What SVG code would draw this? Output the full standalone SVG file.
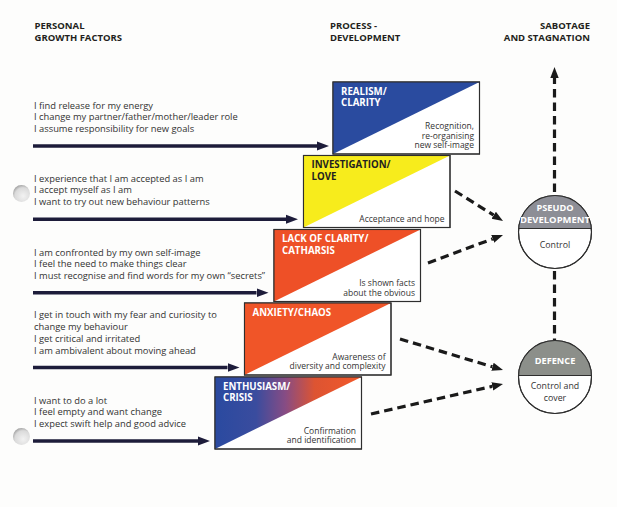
<svg xmlns="http://www.w3.org/2000/svg" width="617" height="507" viewBox="0 0 617 507">
<defs>
<style>
.hdr{font-family:"Open Sans","Liberation Sans",sans-serif;font-weight:700;font-size:9.5px;fill:#231f20}
.lt{font-family:"Open Sans","Liberation Sans",sans-serif;font-size:9.35px;fill:#333}
.ttl{font-family:"Open Sans","Liberation Sans",sans-serif;font-weight:700;font-size:9.7px;fill:#fff}
.ttl.dark{fill:#231f20}
.dsc{font-family:"Open Sans","Liberation Sans",sans-serif;font-size:8.5px;fill:#333;text-anchor:end}
.box{fill:#fff;stroke:#2e2e2e;stroke-width:1.1}
.sol{stroke:#1d1c3a;stroke-width:3.4;fill:none}
.dsh{stroke:#1a1a1a;stroke-width:3.2;fill:none;stroke-dasharray:8.5 5}
.cir{fill:#fff;stroke:#2e2e2e;stroke-width:1.1}
.ctt{font-family:"Open Sans","Liberation Sans",sans-serif;font-weight:700;font-size:9.2px;fill:#fff;text-anchor:middle}
.ctx{font-family:"Open Sans","Liberation Sans",sans-serif;font-size:8.8px;fill:#333;text-anchor:middle}
</style>
<marker id="solHead" markerUnits="userSpaceOnUse" viewBox="0 -5 13 10" refX="0" refY="0" markerWidth="13" markerHeight="10" orient="auto">
<path d="M0,-4.5 L12,0 L0,4.5 z" fill="#1d1c3a"/>
</marker>
<marker id="dshHead" markerUnits="userSpaceOnUse" viewBox="0 -5 12 10" refX="0" refY="0" markerWidth="12" markerHeight="10" orient="auto">
<path d="M0,-4.2 L11,0 L0,4.2 z" fill="#1a1a1a"/>
</marker>
<linearGradient id="gEnth" gradientUnits="userSpaceOnUse" x1="215" y1="0" x2="361.5" y2="0">
<stop offset="0" stop-color="#2a4aa0"/>
<stop offset="0.28" stop-color="#3a4c9e"/>
<stop offset="0.48" stop-color="#874c84"/>
<stop offset="0.68" stop-color="#dd5432"/>
<stop offset="1" stop-color="#f3592a"/>
</linearGradient>
<radialGradient id="hole" cx="0.6" cy="0.65" r="0.7">
<stop offset="0" stop-color="#f2f2f2"/>
<stop offset="0.7" stop-color="#dadada"/>
<stop offset="1" stop-color="#9a9a9a"/>
</radialGradient>
</defs>
<rect x="0" y="0" width="617" height="507" fill="#fdfdfc"/>

<!-- punch holes -->
<circle cx="21.5" cy="193.5" r="8.5" fill="url(#hole)"/>
<circle cx="21.5" cy="436.5" r="8.5" fill="url(#hole)"/>

<!-- headers -->
<g id="headers">
<text class="hdr" x="34.5" y="28.5">PERSONAL</text>
<text class="hdr" x="34.5" y="41">GROWTH FACTORS</text>
<text class="hdr" x="330" y="28.5">PROCESS -</text>
<text class="hdr" x="330" y="41">DEVELOPMENT</text>
<text class="hdr" x="590" y="28.5" text-anchor="end">SABOTAGE</text>
<text class="hdr" x="590" y="41" text-anchor="end">AND STAGNATION</text>
</g>

<!-- growth factor texts -->
<g id="factors-1">
<text class="lt" x="34" y="108.6">I find release for my energy</text>
<text class="lt" x="34" y="120.3">I change my partner/father/mother/leader role</text>
<text class="lt" x="34" y="132">I assume responsibility for new goals</text>
</g>
<g id="factors-2">
<text class="lt" x="34" y="181.6">I experience that I am accepted as I am</text>
<text class="lt" x="34" y="193.3">I accept myself as I am</text>
<text class="lt" x="34" y="205">I want to try out new behaviour patterns</text>
</g>
<g id="factors-3">
<text class="lt" x="34" y="255.6">I am confronted by my own self-image</text>
<text class="lt" x="34" y="267.3">I feel the need to make things clear</text>
<text class="lt" x="34" y="279">I must recognise and find words for my own “secrets”</text>
</g>
<g id="factors-4">
<text class="lt" x="34" y="318.4">I get in touch with my fear and curiosity to</text>
<text class="lt" x="34" y="330.1">change my behaviour</text>
<text class="lt" x="34" y="341.8">I get critical and irritated</text>
<text class="lt" x="34" y="353.5">I am ambivalent about moving ahead</text>
</g>
<g id="factors-5">
<text class="lt" x="34" y="403.6">I want to do a lot</text>
<text class="lt" x="34" y="415.3">I feel empty and want change</text>
<text class="lt" x="34" y="427">I expect swift help and good advice</text>
</g>

<!-- process boxes -->
<g id="realism-clarity">
<rect class="box" x="333" y="82" width="146.5" height="72"/>
<polygon points="333,82 479.5,82 333,154" fill="#2a4b9f"/>
<rect x="333" y="82" width="146.5" height="72" fill="none" stroke="#2e2e2e" stroke-width="1.1"/>
<text class="ttl" x="341" y="94.5">REALISM/</text>
<text class="ttl" x="341" y="106">CLARITY</text>
<text class="dsc" x="474" y="129">Recognition,</text>
<text class="dsc" x="474" y="138.5">re-organising</text>
<text class="dsc" x="474" y="148">new self-image</text>
</g>
<g id="investigation-love">
<rect class="box" x="303.5" y="155.5" width="146.5" height="72"/>
<polygon points="303.5,155.5 450,155.5 303.5,227.5" fill="#f7ec1c"/>
<rect x="303.5" y="155.5" width="146.5" height="72" fill="none" stroke="#2e2e2e" stroke-width="1.1"/>
<text class="ttl dark" x="311.5" y="168">INVESTIGATION/</text>
<text class="ttl dark" x="311.5" y="179.5">LOVE</text>
<text class="dsc" x="444.5" y="221.5">Acceptance and hope</text>
</g>
<g id="lack-of-clarity-catharsis">
<rect class="box" x="274" y="229.5" width="146.5" height="72"/>
<polygon points="274,229.5 420.5,229.5 274,301.5" fill="#ee5027"/>
<rect x="274" y="229.5" width="146.5" height="72" fill="none" stroke="#2e2e2e" stroke-width="1.1"/>
<text class="ttl" x="282" y="242">LACK OF CLARITY/</text>
<text class="ttl" x="282" y="253.5">CATHARSIS</text>
<text class="dsc" x="415" y="286">Is shown facts</text>
<text class="dsc" x="415" y="295.5">about the obvious</text>
</g>
<g id="anxiety-chaos">
<rect class="box" x="244.5" y="303" width="146.5" height="72"/>
<polygon points="244.5,303 391,303 244.5,375" fill="#f05528"/>
<rect x="244.5" y="303" width="146.5" height="72" fill="none" stroke="#2e2e2e" stroke-width="1.1"/>
<text class="ttl" x="252.5" y="315.5">ANXIETY/CHAOS</text>
<text class="dsc" x="385.5" y="359.5">Awareness of</text>
<text class="dsc" x="385.5" y="369">diversity and complexity</text>
</g>
<g id="enthusiasm-crisis">
<rect class="box" x="215" y="377" width="146.5" height="72"/>
<polygon points="215,377 361.5,377 215,449" fill="url(#gEnth)"/>
<rect x="215" y="377" width="146.5" height="72" fill="none" stroke="#2e2e2e" stroke-width="1.1"/>
<text class="ttl" x="223" y="389.5">ENTHUSIASM/</text>
<text class="ttl" x="223" y="401">CRISIS</text>
<text class="dsc" x="356" y="433.5">Confirmation</text>
<text class="dsc" x="356" y="443">and identification</text>
</g>

<!-- sabotage circles -->
<g id="pseudo-development">
<circle class="cir" cx="555" cy="232" r="36.5"/>
<path d="M518.67,228.5 A36.5,36.5 0 0 1 591.33,228.5 Z" fill="#8d8e96"/>
<line x1="518.67" y1="228.5" x2="591.33" y2="228.5" stroke="#2e2e2e" stroke-width="1.1"/>
<circle cx="555" cy="232" r="36.5" fill="none" stroke="#2e2e2e" stroke-width="1.1"/>
<text class="ctt" x="555" y="211">PSEUDO</text>
<text class="ctt" x="555" y="222.5" textLength="70" lengthAdjust="spacingAndGlyphs">DEVELOPMENT</text>
<text class="ctx" x="555" y="248">Control</text>
</g>
<g id="defence">
<circle class="cir" cx="555" cy="377" r="36.5"/>
<path d="M518.53,375.5 A36.5,36.5 0 0 1 591.47,375.5 Z" fill="#8c8f8a"/>
<line x1="518.53" y1="375.5" x2="591.47" y2="375.5" stroke="#2e2e2e" stroke-width="1.1"/>
<circle cx="555" cy="377" r="36.5" fill="none" stroke="#2e2e2e" stroke-width="1.1"/>
<text class="ctt" x="555" y="363.5">DEFENCE</text>
<text class="ctx" x="555" y="389">Control and</text>
<text class="ctx" x="555" y="400.5">cover</text>
</g>

<!-- connectors -->
<g id="connectors">
<line class="sol" x1="33" y1="146" x2="317" y2="146" marker-end="url(#solHead)"/>
<line class="sol" x1="33" y1="219.3" x2="286" y2="219.3" marker-end="url(#solHead)"/>
<line class="sol" x1="33" y1="292.7" x2="256.5" y2="292.7" marker-end="url(#solHead)"/>
<line class="sol" x1="33" y1="367.5" x2="227.5" y2="367.5" marker-end="url(#solHead)"/>
<line class="sol" x1="33" y1="441" x2="198" y2="441" marker-end="url(#solHead)"/>
<line class="dsh" x1="455" y1="191" x2="493.7" y2="215.2" marker-end="url(#dshHead)"/>
<line class="dsh" x1="428" y1="263" x2="492.7" y2="238.85" marker-end="url(#dshHead)"/>
<line class="dsh" x1="400" y1="339" x2="492.5" y2="366.8" marker-end="url(#dshHead)"/>
<line class="dsh" x1="371" y1="414" x2="492.3" y2="386.4" marker-end="url(#dshHead)"/>
<line class="dsh" x1="554.5" y1="192" x2="554.5" y2="78" marker-end="url(#dshHead)"/>
<line class="dsh" x1="554.5" y1="271" x2="554.5" y2="340"/>
</g>
</svg>
